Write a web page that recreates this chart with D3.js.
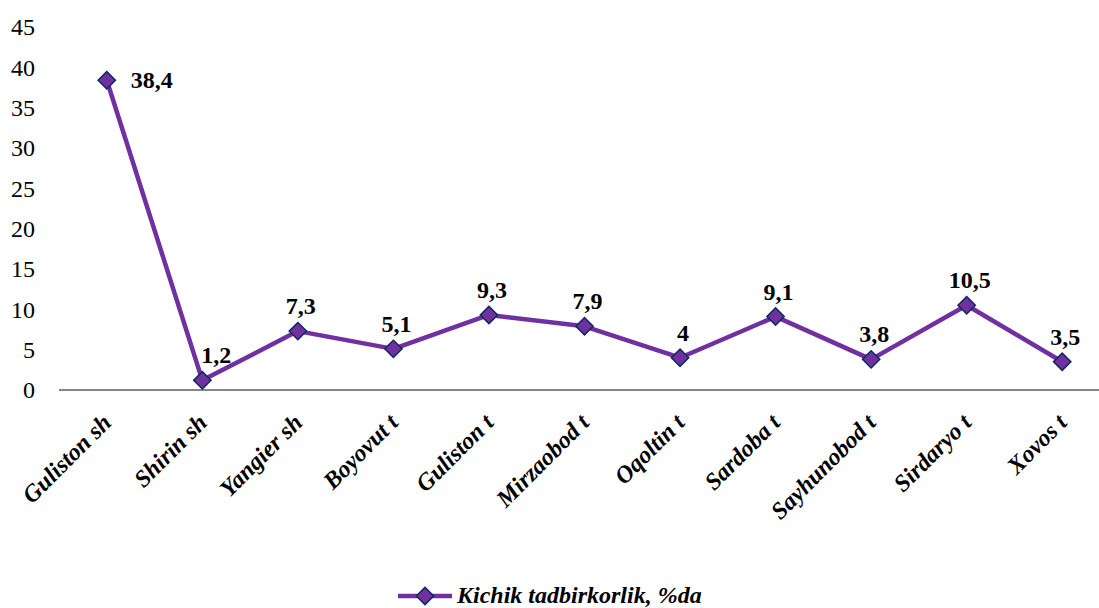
<!DOCTYPE html>
<html><head><meta charset="utf-8">
<script src="https://cdn.jsdelivr.net/npm/d3@7"></script>
<style>html,body{margin:0;padding:0;background:#fff;}svg{display:block;}
svg text{font-family:"Liberation Serif","Tinos","Times New Roman","DejaVu Serif",serif;}</style>
</head><body>
<svg id="c" width="1099" height="608"></svg>
<script>
const categories = ["Guliston sh","Shirin sh","Yangier sh","Boyovut t","Guliston t","Mirzaobod t","Oqoltin t","Sardoba t","Sayhunobod t","Sirdaryo t","Xovos t"];
const values = [38.4,1.2,7.3,5.1,9.3,7.9,4,9.1,3.8,10.5,3.5];
const valueLabels = ["38,4","1,2","7,3","5,1","9,3","7,9","4","9,1","3,8","10,5","3,5"];
const yTicks = [0,5,10,15,20,25,30,35,40,45];
const seriesName = "Kichik tadbirkorlik, %da";

const svg = d3.select("#c");
const x = d3.scaleBand().domain(categories).range([59, 1110]);
const y = d3.scaleLinear().domain([0,45]).range([390, 27]);
const cx = d => x(d) + x.bandwidth()/2;

// y axis labels
svg.append("g").selectAll("text").data(yTicks).join("text")
  .attr("x", 35).attr("y", d => y(d)).attr("dy","0.35em")
  .attr("text-anchor","end").attr("font-size",24).attr("fill","#000")
  .text(d => d);

// x axis line
svg.append("line").attr("x1",59).attr("x2",1110).attr("y1",y(0)).attr("y2",y(0))
  .attr("stroke","#868686").attr("stroke-width",2);

// x labels
svg.append("g").selectAll("text").data(categories).join("text")
  .attr("transform", d => `translate(${cx(d)+6},${y(0)+34}) rotate(-45)`)
  .attr("text-anchor","end").attr("font-size",24)
  .attr("font-weight","bold").attr("font-style","italic").attr("fill","#000")
  .text(d => d);

const purple = "#7030A0", navy = "#0E2A5E";
const line = d3.line().x((d,i)=>cx(categories[i])).y(d=>y(d));
svg.append("path").datum(values).attr("d",line).attr("fill","none")
  .attr("stroke",purple).attr("stroke-width",4.5).attr("stroke-linejoin","round");

const sym = d3.symbol().type(d3.symbolSquare).size(150);
svg.append("g").selectAll("path").data(values).join("path")
  .attr("d", sym)
  .attr("transform",(d,i)=>`translate(${cx(categories[i])},${y(d)}) rotate(45)`)
  .attr("fill",purple).attr("stroke",navy).attr("stroke-width",1.5);

// value labels
svg.append("g").selectAll("text").data(values).join("text")
  .attr("x",(d,i)=> i===0 ? cx(categories[i])+24 : cx(categories[i]) + (i===1?14:3))
  .attr("y",(d,i)=> i===0 ? y(d)+8 : y(d)-17)
  .attr("text-anchor",(d,i)=> i===0 ? "start" : "middle")
  .attr("font-size",24).attr("font-weight","bold").attr("fill","#000")
  .text((d,i)=>valueLabels[i]);

// legend
const lg = svg.append("g");
lg.append("line").attr("x1",398).attr("x2",452).attr("y1",596).attr("y2",596)
  .attr("stroke",purple).attr("stroke-width",4.5);
lg.append("path").attr("d",sym).attr("transform","translate(425,596) rotate(45)")
  .attr("fill",purple).attr("stroke",navy).attr("stroke-width",1.5);
lg.append("text").attr("x",457).attr("y",603).attr("font-size",24)
  .attr("font-weight","bold").attr("font-style","italic").text(seriesName);
</script>
</body></html>
